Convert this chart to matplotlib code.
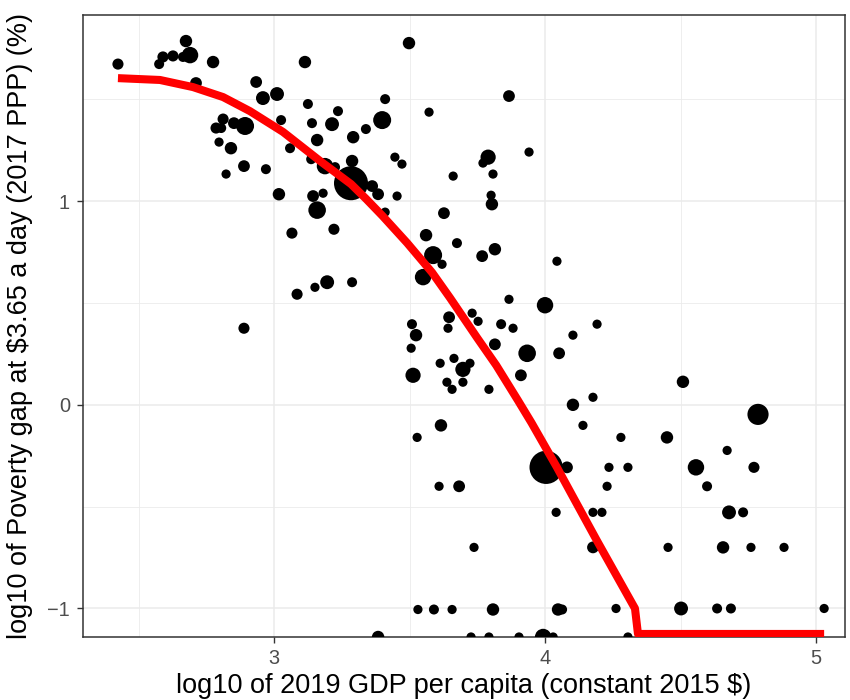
import matplotlib
matplotlib.use("Agg")
import matplotlib.pyplot as plt
from matplotlib.ticker import MultipleLocator

plt.rcParams['font.family'] = ['Liberation Sans', 'DejaVu Sans']

# log10 GDP per capita
gdp_log = [2.424, 2.576, 2.590, 2.627, 2.664, 2.675, 2.690, 2.775, 2.712, 2.934,
           2.959, 3.011, 3.026, 2.812, 2.786, 2.805, 2.852, 2.893, 2.797, 2.841,
           2.889, 2.823, 2.970, 3.018, 3.498, 3.114, 3.410, 3.572, 3.125, 3.236,
           3.140, 3.214, 3.399, 3.339, 3.292, 3.159, 3.059, 3.137, 3.188, 3.225,
           3.288, 3.446, 3.472, 3.661, 3.284, 3.362, 3.384, 3.144, 3.181, 3.454,
           3.159, 3.410, 3.627, 3.066, 3.221, 3.085, 3.151, 3.196, 3.288, 2.889,
           3.804, 3.561, 3.675, 3.587, 3.620, 3.550, 3.768, 3.815, 4.044, 3.867,
           4.000, 3.509, 3.524, 3.506, 3.646, 3.642, 3.731, 3.753, 3.838, 3.882,
           3.815, 3.934, 4.052, 4.103, 4.192, 3.513, 3.613, 3.664, 3.697, 3.723,
           3.638, 3.657, 3.697, 3.793, 3.911, 4.103, 4.177, 4.140, 3.616, 3.528,
           4.004, 4.081, 3.609, 3.683, 4.041, 4.177, 4.210, 3.738, 4.177, 3.531,
           3.590, 3.657, 3.808, 4.048, 4.063, 4.509, 4.786, 4.280, 4.450, 4.672,
           4.236, 4.306, 4.557, 4.771, 4.229, 4.598, 4.679, 4.731, 4.454, 4.657,
           4.760, 4.882, 4.262, 4.502, 4.635, 4.686, 5.030,
           3.384, 3.727, 3.793, 3.904, 3.993, 4.030, 4.306, 4.590, 4.635, 4.886,
           4.941, 3.867, 3.941, 3.790, 3.771, 3.808, 3.801]

# log10 poverty gap
gap_log = [1.673, 1.673, 1.708, 1.713, 1.708, 1.786, 1.717, 1.683, 1.580, 1.585,
           1.506, 1.526, 1.398, 1.403, 1.359, 1.359, 1.383, 1.369, 1.290, 1.260,
           1.172, 1.133, 1.157, 1.034, 1.776, 1.683, 1.501, 1.437, 1.477, 1.442,
           1.383, 1.378, 1.398, 1.354, 1.314, 1.300, 1.260, 1.206, 1.172, 1.167,
           1.197, 1.216, 1.182, 1.123, 1.088, 1.074, 1.034, 1.025, 1.039, 1.025,
           0.956, 0.946, 0.941, 0.843, 0.862, 0.543, 0.577, 0.602, 0.602, 0.376,
           0.985, 0.833, 0.794, 0.735, 0.690, 0.627, 0.730, 0.764, 0.705, 0.518,
           0.489, 0.396, 0.342, 0.278, 0.430, 0.376, 0.450, 0.410, 0.396, 0.376,
           0.297, 0.253, 0.253, 0.342, 0.396, 0.145, 0.204, 0.228, 0.174, 0.204,
           0.111, 0.076, 0.111, 0.076, 0.145, 0.000, 0.037, -0.101, -0.101, -0.160,
           -0.307, -0.307, -0.400, -0.400, -0.528, -0.528, -0.528, -0.700, -0.700, -1.005,
           -1.005, -1.005, -1.005, -1.005, -1.005, 0.113, -0.047, -0.160, -0.160, -0.224,
           -0.307, -0.307, -0.307, -0.307, -0.400, -0.400, -0.528, -0.528, -0.700, -0.700,
           -0.700, -0.700, -1.000, -1.000, -1.000, -1.000, -1.000,
           -1.14, -1.14, -1.14, -1.14, -1.14, -1.14, -1.14, -1.14, -1.14, -1.14,
           -1.14, 1.516, 1.241, 1.216, 1.187, 1.133, 1.029]

# population (millions)
pop = [60, 30, 60, 60, 30, 100, 250, 100, 80, 80,
       150, 150, 30, 60, 60, 30, 80, 320, 10, 100,
       80, 10, 30, 100, 100, 100, 30, 10, 30, 30,
       30, 150, 320, 30, 100, 100, 30, 30, 250, 30,
       100, 10, 10, 10, 1400, 80, 80, 80, 10, 10,
       300, 10, 80, 60, 60, 60, 10, 150, 30, 60,
       100, 100, 30, 320, 10, 250, 80, 100, 10, 10,
       250, 30, 100, 10, 80, 10, 10, 10, 30, 10,
       80, 300, 80, 10, 10, 200, 10, 10, 200, 10,
       10, 10, 10, 10, 80, 100, 10, 10, 100, 10,
       1330, 80, 10, 80, 10, 10, 10, 10, 80, 10,
       30, 10, 100, 100, 30, 100, 480, 10, 100, 10,
       10, 10, 250, 60, 10, 30, 150, 30, 10, 100,
       10, 10, 10, 150, 30, 30, 10,
       100, 10, 10, 10, 250, 10, 10, 30, 30, 10,
       10, 80, 10, 200, 10, 10, 10]

# fitted curve
fit_x = [2.424, 2.579, 2.701, 2.812, 2.911, 3.033, 3.170, 3.284, 3.339, 3.400,
         3.491, 3.583, 3.650, 3.749, 3.820, 3.900, 3.950, 4.044, 4.100, 4.192,
         4.332, 4.343, 5.030]
fit_y = [1.604, 1.595, 1.560, 1.511, 1.442, 1.340, 1.197, 1.084, 1.012, 0.928,
         0.795, 0.650, 0.524, 0.330, 0.194, 0.022, -0.088, -0.307, -0.444, -0.668,
         -1.000, -1.125, -1.125]

fig = plt.figure(figsize=(8.5, 7), dpi=100)
ax = fig.add_axes([83/850, 1 - 637/700, (845-83)/850, (637-15)/700])

sizes = [40 + 0.4 * p for p in pop]
ax.scatter(gdp_log, gap_log, s=sizes, c='black', linewidths=0, zorder=3)
ax.plot(fit_x, fit_y, color='#FF0000', linewidth=5.8, zorder=4,
        solid_joinstyle='round', solid_capstyle='butt')

ax.set_xlim(2.295, 5.107)
ax.set_ylim(-1.14, 1.914)

ax.xaxis.set_major_locator(MultipleLocator(1))
ax.xaxis.set_minor_locator(MultipleLocator(0.5))
ax.yaxis.set_major_locator(MultipleLocator(1))
ax.yaxis.set_minor_locator(MultipleLocator(0.5))
ax.grid(which='major', color='#EBEBEB', linewidth=1.1, zorder=0)
ax.grid(which='minor', color='#EBEBEB', linewidth=0.6, zorder=0)
ax.set_axisbelow(True)
ax.tick_params(which='minor', length=0)
ax.tick_params(which='major', length=4.3, width=1.0, color='#333333',
               labelcolor='#4D4D4D', labelsize=14.4)
ax.tick_params(axis='x', pad=4)
ax.tick_params(axis='y', pad=5)
ax.set_xticks([3, 4, 5])
ax.set_xticklabels(['3', '4', '5'])
ax.set_yticks([-1, 0, 1])
ax.set_yticklabels(['\u22121', '0', '1'])
for sp in ax.spines.values():
    sp.set_color('#333333')
    sp.set_linewidth(1.1)

ax.set_xlabel('log10 of 2019 GDP per capita (constant 2015 $)', fontsize=19.5,
              color='black', labelpad=4)
ax.set_ylabel('log10 of Poverty gap at $3.65 a day (2017 PPP) (%)', fontsize=19.5,
              color='black', labelpad=10)

fig.savefig('out.png', dpi=100, facecolor='white')
